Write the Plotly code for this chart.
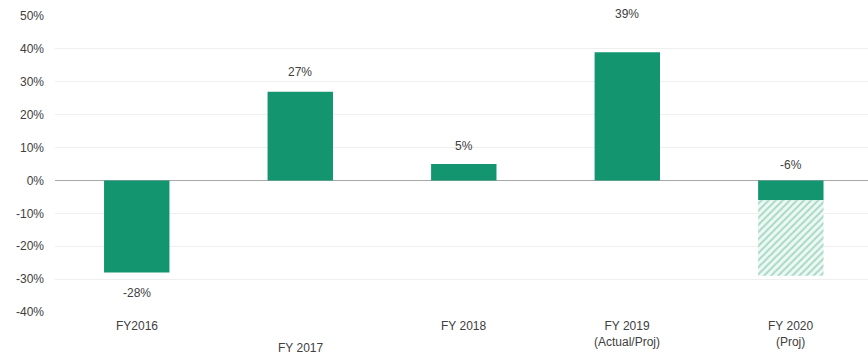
import plotly.graph_objects as go

# Year-over-year change by fiscal year
categories = ["FY2016", "FY 2017", "FY 2018", "FY 2019<br>(Actual/Proj)", "FY 2020<br>(Proj)"]
growth = [-28, 27, 5, 39, -6]
value_labels = ["-28%", "27%", "5%", "39%", "-6%"]

# Projected range for FY 2020 (hatched extension below the solid bar)
proj_category = ["FY 2020<br>(Proj)"]
proj_base = [-6]
proj_low = [-29]

y_ticks = [-40, -30, -20, -10, 0, 10, 20, 30, 40, 50]

GREEN = "#13966f"
HATCH = "#5fb996"
TEXT = "#404040"
FONT = "Liberation Sans, Arial, sans-serif"

fig = go.Figure()

fig.add_trace(go.Bar(
    x=categories, y=growth,
    marker=dict(color=GREEN, line=dict(width=0)),
    width=0.4, hoverinfo="skip",
))

fig.add_trace(go.Bar(
    x=proj_category,
    y=[lo - b for lo, b in zip(proj_low, proj_base)],
    base=proj_base,
    marker=dict(
        color="white",
        line=dict(width=0),
        pattern=dict(shape="/", fgcolor=HATCH, bgcolor="#eef8f4", size=5, solidity=0.4),
    ),
    width=0.4, hoverinfo="skip",
))

# value labels: above the top edge for bars touching zero from above, below for the FY2016 drop
label_shift = {0: -20, 1: 20, 2: 18, 3: 38, 4: 15}
for i, (cat, v, txt) in enumerate(zip(categories, growth, value_labels)):
    anchor_y = v if i != 4 else 0
    fig.add_annotation(
        x=cat, y=anchor_y, text=txt, showarrow=False,
        yshift=label_shift[i], font=dict(family=FONT, size=12, color=TEXT),
    )

# category labels under the plot, FY 2017 dropped to a second row
for i, cat in enumerate(categories):
    fig.add_annotation(
        x=cat, xref="x", y=0, yref="paper", yanchor="top",
        yshift=-5 if i != 1 else -27,
        text=cat, showarrow=False, align="center",
        font=dict(family=FONT, size=12, color=TEXT),
    )

fig.update_layout(
    width=868, height=357,
    margin=dict(l=55, r=0, t=16, b=45),
    paper_bgcolor="white", plot_bgcolor="white",
    barmode="overlay", showlegend=False,
    font=dict(family=FONT, size=12, color=TEXT),
    xaxis=dict(showticklabels=False, showgrid=False, zeroline=False, showline=False,
               ticks="", range=[-0.5, 4.472]),
    yaxis=dict(
        range=[-40, 50], tickvals=y_ticks, ticktext=[f"{t}%" for t in y_ticks],
        showgrid=True, gridcolor="#efefef", gridwidth=1,
        zeroline=True, zerolinecolor="#a8a8a8", zerolinewidth=1,
        showline=False, ticks="", ticklabelstandoff=10,
        tickfont=dict(family=FONT, size=12, color=TEXT),
    ),
)

fig.write_html("out.html")
